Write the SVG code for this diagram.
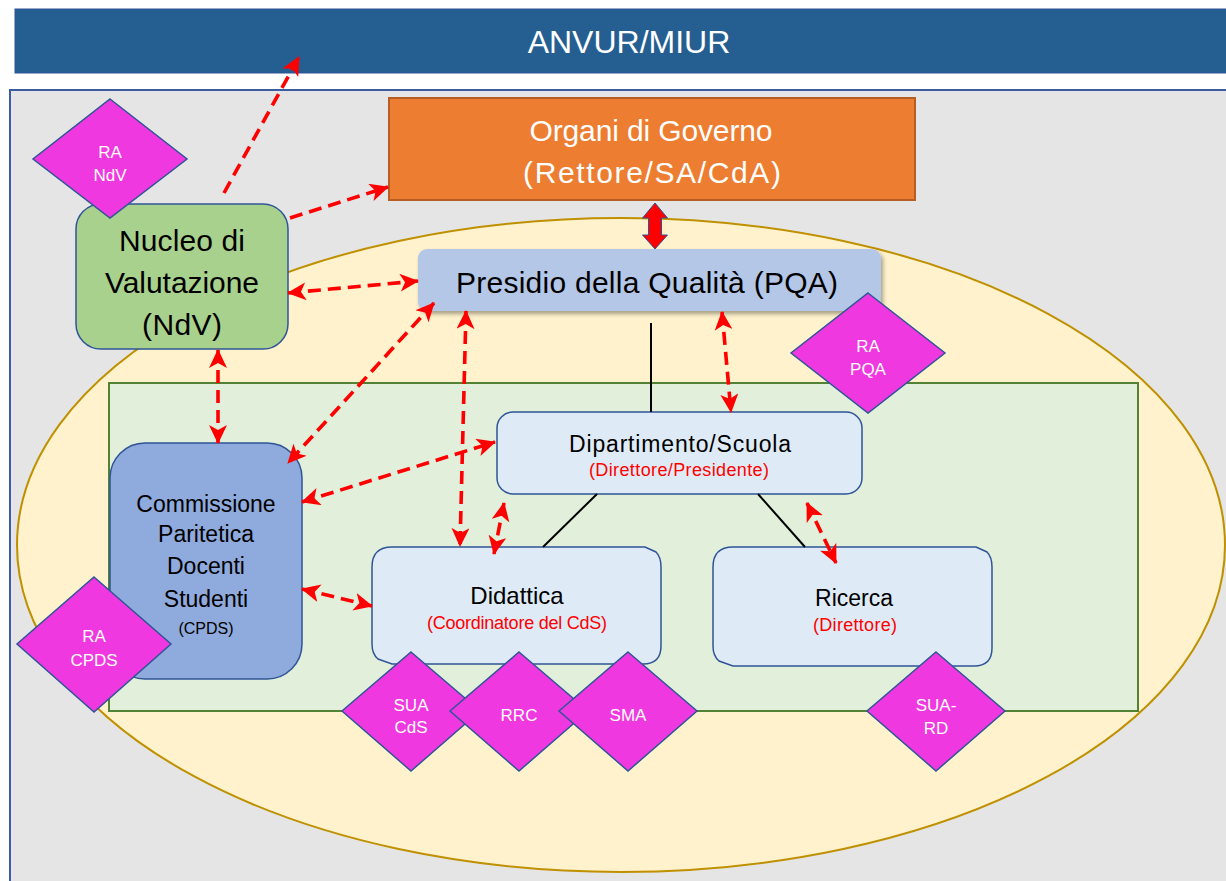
<svg xmlns="http://www.w3.org/2000/svg" width="1226" height="881" viewBox="0 0 1226 881">
<defs>
<style>
.comic{font-family:"Liberation Sans",Arial,sans-serif;font-size:30px;text-anchor:middle}
.cal{font-family:"Liberation Sans",Arial,sans-serif;text-anchor:middle}
.dia{fill:#EF38E0;stroke:#2F5597;stroke-width:1.5}
.dt{font-family:"Liberation Sans",Arial,sans-serif;font-size:17px;fill:#fff;text-anchor:middle}
.lb{fill:#DEEBF7;stroke:#2F5597;stroke-width:1.5}
.dash{fill:none;stroke:#FF0000;stroke-width:3.6;stroke-dasharray:13 7}
.solid{fill:none;stroke:#000;stroke-width:2}
</style>
<marker id="ah" viewBox="0 0 19 18" refX="18" refY="9" markerWidth="19" markerHeight="18" markerUnits="userSpaceOnUse" orient="auto-start-reverse">
<path d="M0,0 L19,9 L0,18 L5,9 Z" fill="#FF0000"/>
</marker>
<filter id="sh" x="-5%" y="-20%" width="115%" height="150%">
<feDropShadow dx="2" dy="3" stdDeviation="2" flood-color="#000" flood-opacity="0.35"/>
</filter>
</defs>

<rect id="background" x="0" y="0" width="1226" height="881" fill="#FFFFFF"/>

<g id="anvur">
<rect x="15" y="9" width="1220" height="64" fill="#255E91" stroke="#2F5597" stroke-width="1"/>
<text x="629" y="53" font-family="'Liberation Sans',Arial,sans-serif" font-size="32" fill="#FFFFFF" text-anchor="middle">ANVUR/MIUR</text>
</g>

<g id="ateneo">
<rect x="10" y="90" width="1230" height="800" fill="#E5E5E5" stroke="#3B5C9E" stroke-width="2"/>
</g>

<g id="ellipse-area">
<ellipse cx="621" cy="545" rx="604" ry="327" fill="#FFF2CC" stroke="#BF9000" stroke-width="2"/>
</g>

<g id="green-area">
<rect x="109" y="383" width="1029" height="328" fill="#E2EFDA" stroke="#548235" stroke-width="2"/>
</g>

<g id="organi">
<rect x="389" y="98" width="526" height="102" fill="#ED7D31" stroke="#B55D22" stroke-width="2"/>
<text class="comic" x="651" y="141" fill="#FFFFFF" textLength="243">Organi di Governo</text>
<text class="comic" x="652" y="183" fill="#FFFFFF" textLength="258">(Rettore/SA/CdA)</text>
</g>

<g id="ndv">
<rect x="76" y="204" width="212" height="145" rx="25" ry="25" fill="#A9D18E" stroke="#2F5597" stroke-width="1.5"/>
<text class="comic" x="182" y="251" fill="#000" textLength="126">Nucleo di</text>
<text class="comic" x="182" y="293" fill="#000" textLength="154">Valutazione</text>
<text class="comic" x="182" y="335" fill="#000" textLength="80">(NdV)</text>
</g>

<g id="ra-ndv">
<polygon class="dia" points="110,99 187,159 110,218 33,159"/>
<text class="dt" x="110" y="158">RA</text>
<text class="dt" x="110" y="181">NdV</text>
</g>

<g id="pqa">
<rect x="418" y="249" width="463" height="62" rx="9" ry="9" fill="#B4C7E7" filter="url(#sh)"/>
<text class="comic" x="647" y="293" fill="#000" textLength="382">Presidio della Qualità (PQA)</text>
</g>

<g id="governo-pqa-arrow">
<path d="M655,203 L667.5,218 L661.5,218 L661.5,235 L667.5,235 L655,249 L642.5,235 L648.5,235 L648.5,218 L642.5,218 Z" fill="#FF0000" stroke="#2F5597" stroke-width="1"/>
</g>

<g id="ra-pqa">
<polygon class="dia" points="868,293 945,353 868,413 791,353"/>
<text class="dt" x="868" y="352">RA</text>
<text class="dt" x="868" y="375">PQA</text>
</g>

<g id="dipartimento">
<rect class="lb" x="497" y="412" width="365" height="82" rx="16" ry="16"/>
<text class="cal" x="680" y="452" font-size="23" fill="#000" textLength="222">Dipartimento/Scuola</text>
<text class="cal" x="679" y="476" font-size="18" fill="#FF0000" textLength="180">(Direttore/Presidente)</text>
</g>

<g id="cpds">
<rect x="110" y="443" width="192" height="236" rx="35" ry="35" fill="#8FAADC" stroke="#2F5597" stroke-width="1.5"/>
<text class="cal" x="206" y="512" font-size="23" fill="#000">Commissione</text>
<text class="cal" x="206" y="542" font-size="23" fill="#000">Paritetica</text>
<text class="cal" x="206" y="574" font-size="23" fill="#000">Docenti</text>
<text class="cal" x="206" y="607" font-size="23" fill="#000">Studenti</text>
<text class="cal" x="206" y="634" font-size="16" fill="#000">(CPDS)</text>
</g>

<g id="ra-cpds">
<polygon class="dia" points="94,577 171,644 94,712 17,644"/>
<text class="dt" x="94" y="642">RA</text>
<text class="dt" x="94" y="666">CPDS</text>
</g>

<g id="didattica">
<path class="lb" d="M392,547 L645,547 L656,552 Q661,557 661,567 L661,646 Q661,664 643,664 L392,664 L378,659 Q372,654 372,644 L372,567 Q372,547 392,547 Z"/>
<text class="cal" x="517" y="604" font-size="24" fill="#000">Didattica</text>
<text class="cal" x="517" y="629" font-size="18" fill="#FF0000" textLength="180">(Coordinatore del CdS)</text>
</g>

<g id="ricerca">
<path class="lb" d="M733,547 L976,547 L987,552 Q992,557 992,567 L992,648 Q992,666 974,666 L733,666 L719,661 Q713,656 713,646 L713,567 Q713,547 733,547 Z"/>
<text class="cal" x="854" y="606" font-size="23" fill="#000">Ricerca</text>
<text class="cal" x="855" y="631" font-size="18" fill="#FF0000" textLength="84">(Direttore)</text>
</g>

<g id="sua-cds">
<polygon class="dia" points="411,652 480,711 411,771 342,711"/>
<text class="dt" x="411" y="711">SUA</text>
<text class="dt" x="411" y="733">CdS</text>
</g>
<g id="rrc">
<polygon class="dia" points="519,652 588,711 519,771 450,711"/>
<text class="dt" x="519" y="721">RRC</text>
</g>
<g id="sma">
<polygon class="dia" points="628,652 697,711 628,771 559,711"/>
<text class="dt" x="628" y="721">SMA</text>
</g>
<g id="sua-rd">
<polygon class="dia" points="936,652 1005,711 936,771 867,711"/>
<text class="dt" x="936" y="711">SUA-</text>
<text class="dt" x="936" y="734">RD</text>
</g>

<g id="connectors">
<line class="solid" x1="651" y1="323" x2="651" y2="412"/>
<line class="solid" x1="597" y1="494" x2="543" y2="547"/>
<line class="solid" x1="758" y1="494" x2="805" y2="547"/>

<line class="dash" x1="224" y1="193" x2="299" y2="57" marker-end="url(#ah)"/>
<line class="dash" x1="290" y1="218" x2="388" y2="187" marker-end="url(#ah)"/>
<line class="dash" x1="288" y1="293" x2="418" y2="281" marker-start="url(#ah)" marker-end="url(#ah)"/>
<line class="dash" x1="218" y1="350" x2="218" y2="443" marker-start="url(#ah)" marker-end="url(#ah)"/>
<line class="dash" x1="434" y1="303" x2="288" y2="463" marker-start="url(#ah)" marker-end="url(#ah)"/>
<line class="dash" x1="466" y1="311" x2="460" y2="546" marker-start="url(#ah)" marker-end="url(#ah)"/>
<line class="dash" x1="722" y1="312" x2="731" y2="412" marker-start="url(#ah)" marker-end="url(#ah)"/>
<line class="dash" x1="302" y1="502" x2="495" y2="442" marker-start="url(#ah)" marker-end="url(#ah)"/>
<line class="dash" x1="504" y1="503" x2="494" y2="554" marker-start="url(#ah)" marker-end="url(#ah)"/>
<line class="dash" x1="302" y1="589" x2="372" y2="606" marker-start="url(#ah)" marker-end="url(#ah)"/>
<line class="dash" x1="807" y1="503" x2="836" y2="563" marker-start="url(#ah)" marker-end="url(#ah)"/>
</g>
</svg>
